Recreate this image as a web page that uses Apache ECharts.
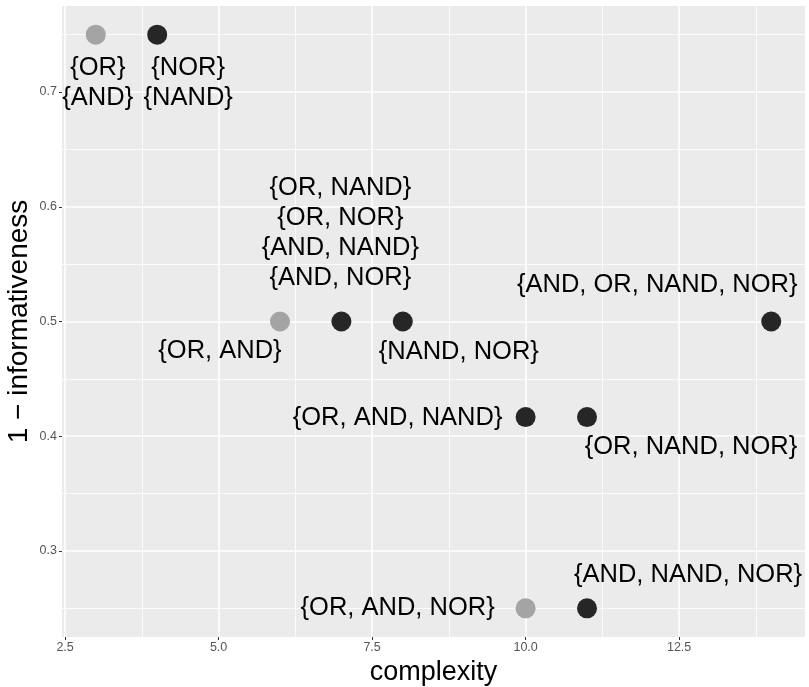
<!DOCTYPE html>
<html>
<head>
<meta charset="utf-8">
<title>complexity vs 1 − informativeness</title>
<script src="https://cdn.jsdelivr.net/npm/echarts@6/dist/echarts.min.js"></script>
<style>
  html, body { margin: 0; padding: 0; background: #ffffff; }
  #chart { width: 809px; height: 687px; }
</style>
</head>
<body>
<div id="chart"></div>
<script>
// Operator sets: complexity vs. 1 − informativeness
const grayX = [3, 6, 10];
const grayY = [0.75, 0.5, 0.25];
const grayLabels = ['{OR}\n{AND}', '{OR, AND}', '{OR, AND, NOR}'];

const darkX = [4, 7, 8, 14, 10, 11, 11];
const darkY = [0.75, 0.5, 0.5, 0.5, 0.4167, 0.4167, 0.25];
const darkLabels = [
  '{NOR}\n{NAND}',
  '{OR, NAND}\n{OR, NOR}\n{AND, NAND}\n{AND, NOR}',
  '{NAND, NOR}',
  '{AND, OR, NAND, NOR}',
  '{OR, AND, NAND}',
  '{OR, NAND, NOR}',
  '{AND, NAND, NOR}'
];

// axis breaks
const xTicks = [2.5, 5.0, 7.5, 10.0, 12.5];
const xMinor = [3.75, 6.25, 8.75, 11.25, 13.75];
const yTicks = [0.3, 0.4, 0.5, 0.6, 0.7];
const yMinor = [0.25, 0.35, 0.45, 0.55, 0.65, 0.75];

// label placement (pixel offsets from the point centre), keyed by label text
const labelOffsets = {
  '{OR}\n{AND}': [2, 48],
  '{OR, AND}': [-60, 29],
  '{OR, AND, NOR}': [-128, 0],
  '{NOR}\n{NAND}': [31, 48],
  '{OR, NAND}\n{OR, NOR}\n{AND, NAND}\n{AND, NOR}': [-1, -89],
  '{NAND, NOR}': [56, 30],
  '{AND, OR, NAND, NOR}': [-114, -37],
  '{OR, AND, NAND}': [-128, 1],
  '{OR, NAND, NOR}': [104, 30],
  '{AND, NAND, NOR}': [101, -33]
};

const FONT = '"Liberation Sans", Arial, Helvetica, sans-serif';

function buildPoints(xs, ys, labels) {
  return xs.map((x, i) => ({
    value: [x, ys[i]],
    label: { offset: labelOffsets[labels[i]] || [0, 0], formatter: labels[i] }
  }));
}

function gridLines(axisKey, values, width) {
  return values.map(v => ({ [axisKey]: v, lineStyle: { color: '#ffffff', width: width, type: 'solid' } }));
}

const pointLabel = {
  show: true,
  position: 'inside',
  align: 'center',
  verticalAlign: 'middle',
  color: '#000000',
  fontFamily: FONT,
  fontSize: 25.5,
  lineHeight: 30
};

const chart = echarts.init(document.getElementById('chart'), null, { renderer: 'canvas' });

chart.setOption({
  animation: false,
  backgroundColor: '#ffffff',
  grid: {
    left: 62, right: 4, top: 6, bottom: 50,
    containLabel: false,
    outerBoundsMode: 'none',
    show: true, backgroundColor: '#EBEBEB', borderWidth: 0
  },
  xAxis: {
    type: 'value',
    min: 2.45, max: 14.55,
    name: 'complexity',
    nameLocation: 'middle',
    nameMoveOverlap: false,
    nameGap: 22,
    nameTextStyle: { fontFamily: FONT, fontSize: 27, color: '#000000' },
    axisLine: { show: false },
    axisTick: { show: true, customValues: xTicks, length: 3, lineStyle: { color: '#333333', width: 1 } },
    axisLabel: {
      customValues: xTicks, margin: 4,
      fontFamily: FONT, fontSize: 12.5, color: '#555555',
      formatter: v => v.toFixed(1)
    },
    splitLine: { show: false }
  },
  yAxis: {
    type: 'value',
    min: 0.225, max: 0.775,
    name: '1 − informativeness',
    nameLocation: 'middle',
    nameMoveOverlap: false,
    nameGap: 29,
    nameTextStyle: { fontFamily: FONT, fontSize: 28, color: '#000000' },
    axisLine: { show: false },
    axisTick: { show: true, customValues: yTicks, length: 3, lineStyle: { color: '#333333', width: 1 } },
    axisLabel: {
      customValues: yTicks, margin: 5,
      fontFamily: FONT, fontSize: 12.5, color: '#555555',
      formatter: v => v.toFixed(1)
    },
    splitLine: { show: false }
  },
  series: [
    {
      // panel grid: minor and major white rules, kept beneath points and labels
      type: 'scatter',
      data: [],
      silent: true,
      z: 0,
      markLine: {
        silent: true,
        z: 0,
        symbol: 'none',
        label: { show: false },
        animation: false,
        data: [].concat(
          gridLines('xAxis', xMinor, 0.8),
          gridLines('yAxis', yMinor, 0.8),
          gridLines('xAxis', xTicks, 1.6),
          gridLines('yAxis', yTicks, 1.6)
        )
      }
    },
    {
      type: 'scatter',
      name: 'gray',
      z: 3,
      symbol: 'circle',
      symbolSize: 20,
      itemStyle: { color: '#A4A4A4', opacity: 1 },
      label: pointLabel,
      data: buildPoints(grayX, grayY, grayLabels)
    },
    {
      type: 'scatter',
      name: 'dark',
      z: 3,
      symbol: 'circle',
      symbolSize: 20,
      itemStyle: { color: '#262626', opacity: 1 },
      label: pointLabel,
      data: buildPoints(darkX, darkY, darkLabels)
    }
  ]
});
</script>
</body>
</html>
